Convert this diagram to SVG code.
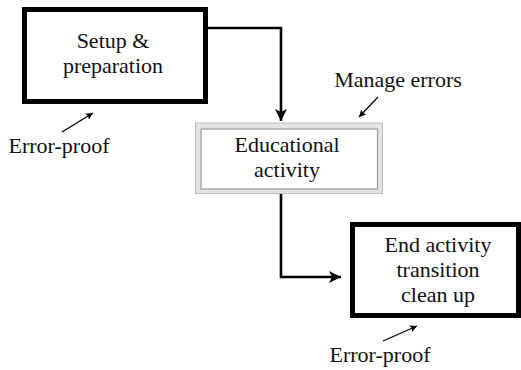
<svg xmlns="http://www.w3.org/2000/svg" width="521" height="370" viewBox="0 0 521 370">
  <style>
    text { font-family: "Liberation Serif", "DejaVu Serif", "Times New Roman", serif; font-size: 22px; fill: #111; text-anchor: middle; }
    .heavy { fill: #fff; stroke: #000; stroke-width: 5; }
    .flow { fill: none; stroke: #000; stroke-width: 2.6; }
    .note { fill: none; stroke: #000; stroke-width: 1.2; }
  </style>
  <defs>
    <!-- solid arrowhead for the process flow -->
    <marker id="head" viewBox="0 0 10 10" refX="10" refY="5" markerWidth="12" markerHeight="12" markerUnits="userSpaceOnUse" orient="auto">
      <path d="M0,0 L10,5 L0,10 L2.5,5 Z" fill="#000"/>
    </marker>
    <!-- small arrowhead for the annotation pointers -->
    <marker id="tip" viewBox="0 0 10 10" refX="10" refY="5" markerWidth="7" markerHeight="7" markerUnits="userSpaceOnUse" orient="auto">
      <path d="M0,0 L10,5 L0,10 L2,5 Z" fill="#000"/>
    </marker>
  </defs>
  <rect width="521" height="370" fill="#fff"/>

  <g id="connectors">
    <polyline class="flow" points="208,28 281,28 281,121" marker-end="url(#head)"/>
    <polyline class="flow" points="281,194 281,277 341,277" marker-end="url(#head)"/>
    <line class="note" x1="62" y1="132" x2="93" y2="113" marker-end="url(#tip)"/>
    <line class="note" x1="378" y1="97" x2="359" y2="117" marker-end="url(#tip)"/>
    <line class="note" x1="383" y1="341" x2="417" y2="326" marker-end="url(#tip)"/>
  </g>

  <g id="setup">
    <rect class="heavy" x="24.5" y="9.5" width="181" height="92"/>
    <text x="113" y="48">Setup &amp;</text>
    <text x="113" y="73">preparation</text>
  </g>

  <g id="educational">
    <rect x="195.5" y="123" width="187" height="70.5" fill="#e4e4e4" stroke="#bdbdbd" stroke-width="1"/>
    <rect x="201" y="129" width="176.5" height="60" fill="#fff" stroke="#9a9a9a" stroke-width="1.2"/>
    <text x="287" y="152">Educational</text>
    <text x="287" y="177">activity</text>
  </g>

  <g id="end-activity">
    <rect class="heavy" x="352.5" y="224.5" width="166" height="91"/>
    <text x="438" y="252">End activity</text>
    <text x="438" y="277">transition</text>
    <text x="438" y="302">clean up</text>
  </g>

  <g id="error-proof-top">
    <text x="59" y="153">Error-proof</text>
  </g>
  <g id="manage-errors">
    <text x="398" y="87">Manage errors</text>
  </g>
  <g id="error-proof-bottom">
    <text x="380" y="362">Error-proof</text>
  </g>
</svg>
